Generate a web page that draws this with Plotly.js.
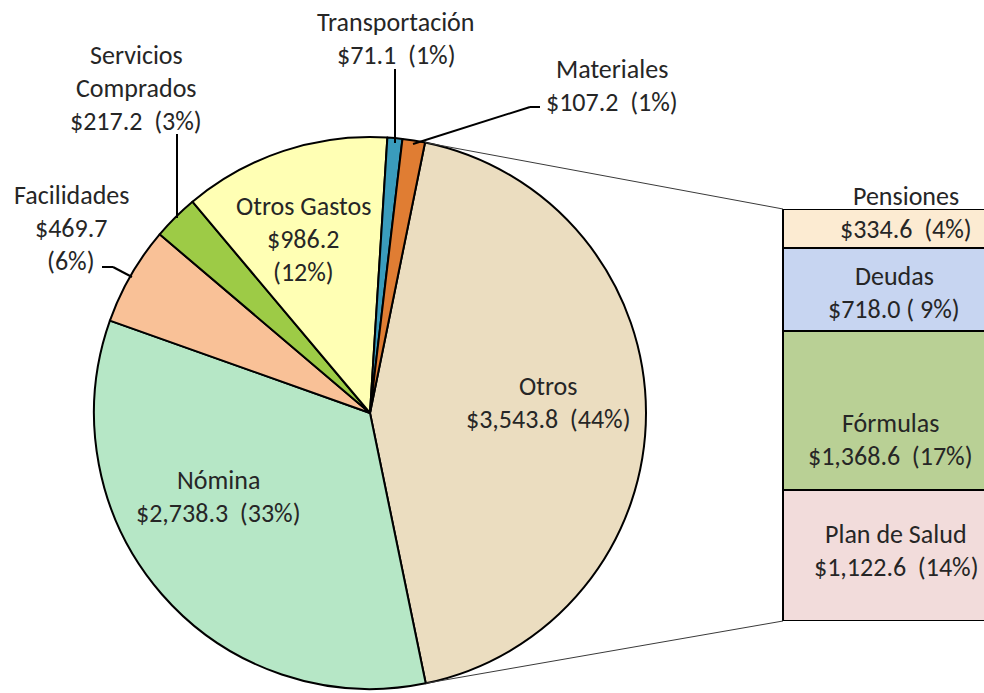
<!DOCTYPE html>
<html>
<head>
<meta charset="utf-8">
<script src="https://cdn.plot.ly/plotly-3.0.1.min.js"></script>
<style>html,body{margin:0;padding:0;background:#fff;}#chart{width:984px;height:693px;}</style>
</head>
<body>
<div id="chart"></div>
<script>
// ---------- data ----------
const pieLabels = ["Otros", "Nómina", "Facilidades", "Servicios Comprados", "Otros Gastos", "Transportación", "Materiales"];
const pieValues = [3543.8, 2738.3, 469.7, 217.2, 986.2, 71.1, 107.2];
const piePct    = ["44%", "33%", "6%", "3%", "12%", "1%", "1%"];

const barLabels = ["Plan de Salud", "Fórmulas", "Deudas", "Pensiones"];
const barValues = [1122.6, 1368.6, 718.0, 334.6];
const barPct    = ["14%", "17%", " 9%", "4%"];

// ---------- styles / layout ----------
const W = 984, H = 693;
const cx = 370, cy = 413, R = 276;
const rotation = 11.5;
const pieColors = ["#EBDDC0", "#B6E7C6", "#F9C197", "#9DCB46", "#FFFFB4", "#3A9CBC", "#E07D33"];
const barColors = ["#F2DCDB", "#B9D095", "#C7D5F1", "#FCEBD2"];
const barLeftPx = 783, barTopPx = 209, barBotPx = 621, barWidthPx = 214;
const FONT = "Carlito, Calibri, 'Open Sans', sans-serif";
const FS = 26;
const TXT = "#262626";
const LH = 33;

const fmt = v => "$" + v.toLocaleString("en-US", {minimumFractionDigits: 1, maximumFractionDigits: 1});
const sp = "\u00a0";

// label line styles: 'two' = [name, value (pct)], 'three' = [name, value, (pct)], 'split' = [word..., value (pct)]
const pieLabelSpec = [
  {style: "two",   x: 548, y: 386},
  {style: "two",   x: 218, y: 480},
  {style: "three", x: 71,  y: 195},
  {style: "split", x: 136, y: 55},
  {style: "three", x: 303, y: 206},
  {style: "two",   x: 396, y: 22},
  {style: "two",   x: 612, y: 69}
];
const barLabelSpec = [
  {style: "two", x: 896, y: 534},
  {style: "two", x: 890, y: 423},
  {style: "two", x: 894, y: 276, tight: true},
  {style: "two", x: 906, y: 196}
];

function lines(name, v, pct, style, tight) {
  const val = fmt(v);
  const p = "(" + pct + ")";
  if (style === "three") return [name, val, p];
  if (style === "split") return name.split(" ").concat([val + sp + " " + p]);
  return [name, tight ? val + " " + p : val + sp + " " + p];
}

const px2x = px => px / W;
const py2y = py => 1 - py / H;

const annotations = [];
function addLabel(name, v, pct, spec) {
  const ls = lines(name, v, pct, spec.style, spec.tight);
  ls.forEach((t, i) => {
    annotations.push({
      xref: "paper", yref: "paper",
      x: px2x(spec.x), y: py2y(spec.y + i * LH),
      xanchor: "center", yanchor: "middle",
      text: t, showarrow: false,
      font: {family: FONT, size: FS, color: TXT}
    });
  });
}
pieLabels.forEach((n, i) => addLabel(n, pieValues[i], piePct[i], pieLabelSpec[i]));
barLabels.forEach((n, i) => addLabel(n, barValues[i], barPct[i], barLabelSpec[i]));

// connector lines computed from pie geometry and bar position
const total = pieValues.reduce((a, b) => a + b, 0);
const a0 = rotation * Math.PI / 180;
const a1 = (rotation + 360 * pieValues[0] / total) * Math.PI / 180;
const p0 = [cx + R * Math.sin(a0), cy - R * Math.cos(a0)];
const p1 = [cx + R * Math.sin(a1), cy - R * Math.cos(a1)];

const seg = (x0, y0, x1, y1, w, c) => ({
  type: "line", xref: "paper", yref: "paper",
  x0: px2x(x0), y0: py2y(y0), x1: px2x(x1), y1: py2y(y1),
  line: {color: c, width: w}, layer: "above"
});
const shapes = [
  seg(p0[0], p0[1], barLeftPx, barTopPx, 1, "#3a3a3a"),
  seg(p1[0], p1[1], barLeftPx, barBotPx, 1, "#3a3a3a"),
  // leader lines
  seg(395, 69, 395, 143, 2, "#000"),
  seg(413, 144, 530, 107, 2, "#000"),
  seg(530, 107, 540, 107, 2, "#000"),
  seg(177, 134, 177, 218, 2, "#000"),
  seg(102, 267, 113, 267, 2, "#000"),
  seg(113, 267, 132, 277, 2, "#000")
];

const pieTrace = {
  type: "pie",
  labels: pieLabels,
  values: pieValues,
  sort: false,
  direction: "clockwise",
  rotation: rotation,
  textinfo: "none",
  hoverinfo: "label+value+percent",
  marker: {colors: pieColors, line: {color: "#000", width: 2}},
  domain: {x: [(cx - R) / W, (cx + R) / W], y: [1 - (cy + R) / H, 1 - (cy - R) / H]},
  showlegend: false
};

const xDom = [0.79, 1];
const domStartPx = xDom[0] * W;
const xa0 = -0.5 - (barLeftPx - domStartPx) / barWidthPx;
const xa1 = xa0 + (xDom[1] - xDom[0]) * W / barWidthPx;

const barTraces = barLabels.map((n, i) => ({
  type: "bar",
  x: [0], y: [barValues[i]],
  width: 1,
  name: n,
  marker: {color: barColors[i], line: {color: "#000", width: 2}},
  showlegend: false,
  hoverinfo: "name+y"
}));

const layout = {
  width: W, height: H,
  margin: {l: 0, r: 0, t: 0, b: 0},
  paper_bgcolor: "#fff", plot_bgcolor: "rgba(0,0,0,0)",
  barmode: "stack",
  xaxis: {domain: xDom, range: [xa0, xa1], visible: false, fixedrange: true},
  yaxis: {domain: [1 - barBotPx / H, 1 - barTopPx / H], range: [0, barValues.reduce((a, b) => a + b, 0)], visible: false, fixedrange: true},
  annotations: annotations,
  shapes: shapes,
  showlegend: false
};

Plotly.newPlot("chart", [pieTrace].concat(barTraces), layout, {displayModeBar: false, staticPlot: true});
</script>
</body>
</html>
